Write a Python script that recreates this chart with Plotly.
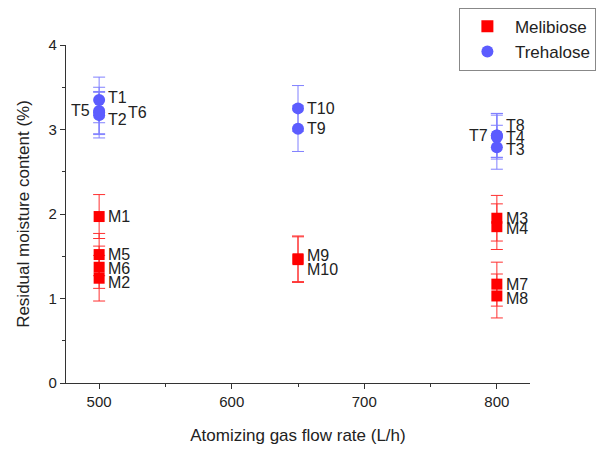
import plotly.graph_objects as go

# ---- data ----
mel_labels = ["M1", "M5", "M6", "M2", "M9", "M10", "M3", "M4", "M7", "M8"]
mel_x = [500, 500, 500, 500, 650, 650, 800, 800, 800, 800]
mel_y = [1.97, 1.52, 1.37, 1.24, 1.47, 1.46, 1.95, 1.85, 1.17, 1.03]
mel_err = [0.26, 0.25, 0.25, 0.27, 0.27, 0.27, 0.27, 0.27, 0.26, 0.26]

tre_labels = ["T1", "T2", "T5", "T6", "T10", "T9", "T8", "T4", "T7", "T3"]
tre_x = [500, 500, 500, 500, 650, 650, 800, 800, 800, 800]
tre_y = [3.35, 3.17, 3.22, 3.20, 3.25, 3.01, 2.93, 2.91, 2.93, 2.79]
tre_err = [0.27, 0.27, 0.28, 0.25, 0.27, 0.27, 0.26, 0.26, 0.26, 0.26]

# label placement (style): (xanchor, xshift, yshift)
mel_lab_style = [("left", 7, 0), ("left", 7, 0), ("left", 7, -1), ("left", 7, -4),
                 ("left", 7, 3), ("left", 7, -10), ("left", 7, 0), ("left", 7, -2),
                 ("left", 7, 0), ("left", 7, -3)]
tre_lab_style = [("left", 7, 2), ("left", 7, -4), ("right", -7, 0), ("left", 27, 0),
                 ("left", 7, 0), ("left", 7, 0), ("left", 7, 10), ("left", 7, 0),
                 ("right", -7, 0), ("left", 7, -2)]

RED = "#ff0000"
BLUE = "#5c5cff"
FONT = "Liberation Sans, Arial, sans-serif"

fig = go.Figure()
fig.add_trace(go.Scatter(
    x=mel_x, y=mel_y, mode="markers", name="Melibiose",
    marker=dict(symbol="square", size=11, color=RED),
    error_y=dict(type="data", array=mel_err, color="#ff3030", thickness=1, width=6),
))
fig.add_trace(go.Scatter(
    x=tre_x, y=tre_y, mode="markers", name="Trehalose",
    marker=dict(symbol="circle", size=12, color=BLUE),
    error_y=dict(type="data", array=tre_err, color="#8080ff", thickness=1, width=6),
))

annotations = []
for labs, xs, ys, styles in [(mel_labels, mel_x, mel_y, mel_lab_style),
                             (tre_labels, tre_x, tre_y, tre_lab_style)]:
    for lab, x, y, (anc, xs_, ys_) in zip(labs, xs, ys, styles):
        annotations.append(dict(
            x=x, y=y, xref="x", yref="y", text=lab, showarrow=False,
            xanchor=anc, yanchor="middle", xshift=xs_, yshift=ys_,
            font=dict(family=FONT, size=16, color="#222222"),
        ))

fig.update_layout(
    width=602, height=457,
    margin=dict(l=66, r=72, t=45, b=74, autoexpand=False),
    paper_bgcolor="white", plot_bgcolor="white",
    font=dict(family=FONT, size=15, color="#222222"),
    showlegend=True,
    legend=dict(
        x=1.142, y=1.11, xanchor="right", yanchor="top",
        bordercolor="#888888", borderwidth=1, bgcolor="white",
        font=dict(family=FONT, size=17, color="#222222"),
        itemsizing="constant", tracegroupgap=0, itemwidth=45,
    ),
    annotations=annotations,
)
fig.update_xaxes(
    range=[475, 825], tickvals=[500, 600, 700, 800],
    showline=True, linecolor="#333333", linewidth=1.2,
    ticks="outside", ticklen=5, tickcolor="#333333",
    minor=dict(tickvals=[550, 650, 750], ticks="outside", ticklen=3, tickcolor="#333333"),
    showgrid=False, zeroline=False, mirror=False,
    title=dict(text="Atomizing gas flow rate (L/h)", font=dict(size=17), standoff=20),
    tickfont=dict(size=15),
)
fig.update_yaxes(
    range=[0, 4], tickvals=[0, 1, 2, 3, 4],
    showline=True, linecolor="#333333", linewidth=1.2,
    ticks="outside", ticklen=5, tickcolor="#333333",
    minor=dict(tickvals=[0.5, 1.5, 2.5, 3.5], ticks="outside", ticklen=3, tickcolor="#333333"),
    showgrid=False, zeroline=False, mirror=False,
    title=dict(text="Residual moisture content (%)", font=dict(size=17), standoff=14),
    tickfont=dict(size=15),
)

fig.write_html("out.html")
